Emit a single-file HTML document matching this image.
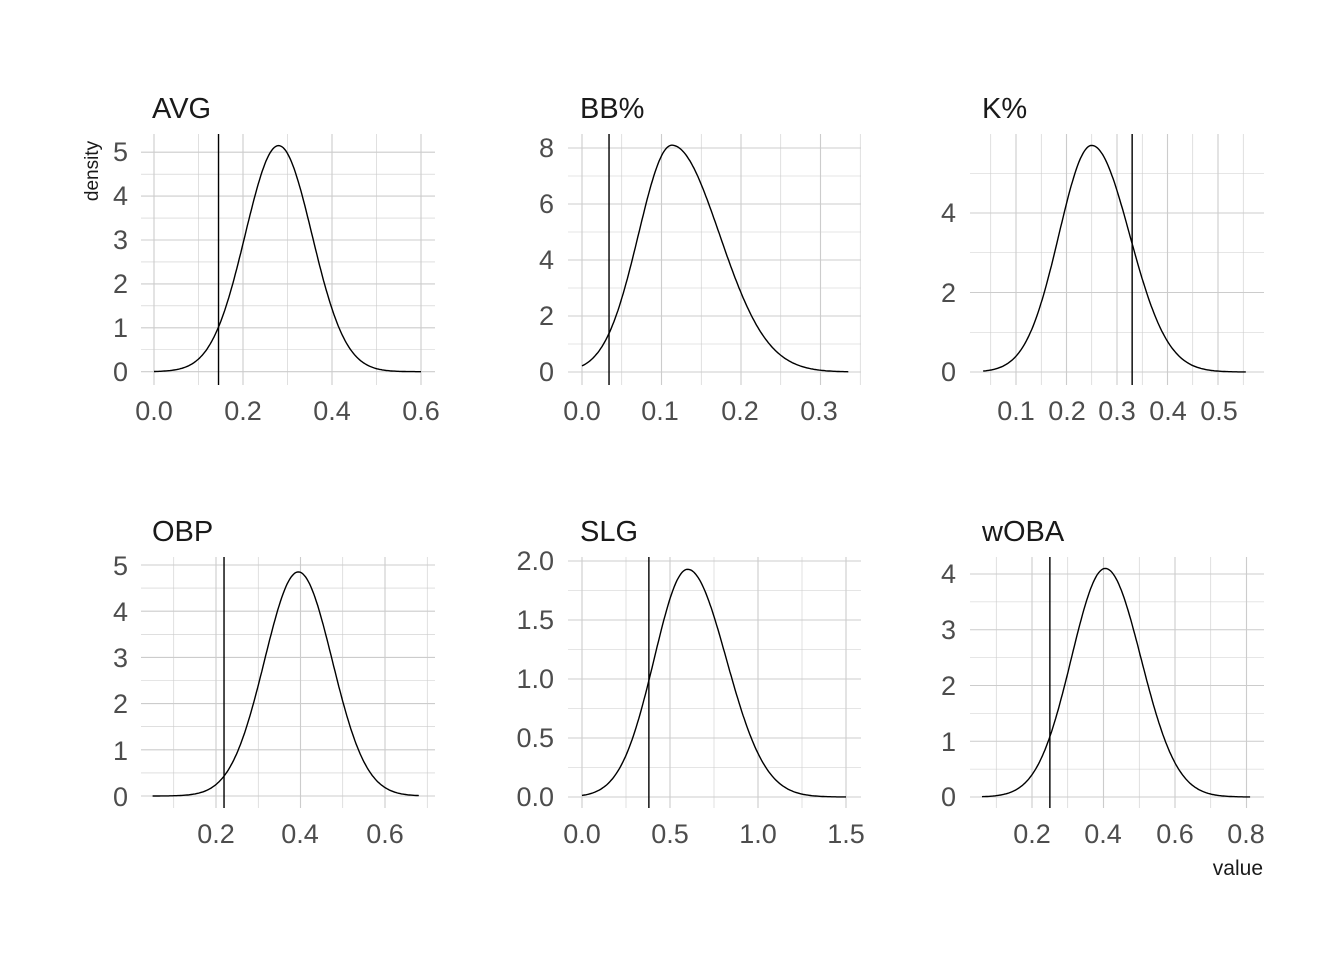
<!DOCTYPE html>
<html><head><meta charset="utf-8"><style>
body{margin:0;background:#fff}
text{font-family:"Liberation Sans",Arial,sans-serif}
.t{font-size:27px;fill:#4d4d4d}
.h{font-size:29px;fill:#1a1a1a}
</style></head><body>
<svg id="s" width="1344" height="960" xmlns="http://www.w3.org/2000/svg">
<rect width="1344" height="960" fill="#fff"/>
<g id="grid"></g>
<g id="curves" fill="none" stroke="#000" stroke-width="1.4"></g>
<text class="h" x="152" y="118">AVG</text>
<text class="h" x="580" y="118">BB%</text>
<text class="h" x="982" y="118">K%</text>
<text class="h" x="152" y="541">OBP</text>
<text class="h" x="580" y="541">SLG</text>
<text class="h" x="982" y="541">wOBA</text>
<text x="98" y="171" font-size="19" fill="#1a1a1a" transform="rotate(-90 98 171)" text-anchor="middle">density</text>
<text x="1263" y="875" font-size="21" fill="#1a1a1a" text-anchor="end">value</text>
<g class="t" text-anchor="end">
<text x="128" y="381">0</text><text x="128" y="337">1</text><text x="128" y="293">2</text><text x="128" y="249">3</text><text x="128" y="205">4</text><text x="128" y="161">5</text>
<text x="554" y="381">0</text><text x="554" y="325">2</text><text x="554" y="269">4</text><text x="554" y="213">6</text><text x="554" y="157">8</text>
<text x="956" y="381">0</text><text x="956" y="302">2</text><text x="956" y="222">4</text>
<text x="128" y="806">0</text><text x="128" y="760">1</text><text x="128" y="713">2</text><text x="128" y="667">3</text><text x="128" y="621">4</text><text x="128" y="575">5</text>
<text x="554" y="806">0.0</text><text x="554" y="747">0.5</text><text x="554" y="688">1.0</text><text x="554" y="629">1.5</text><text x="554" y="570">2.0</text>
<text x="956" y="806">0</text><text x="956" y="751">1</text><text x="956" y="695">2</text><text x="956" y="639">3</text><text x="956" y="583">4</text>
</g>
<g class="t" text-anchor="middle">
<text x="154" y="420">0.0</text><text x="243" y="420">0.2</text><text x="332" y="420">0.4</text><text x="421" y="420">0.6</text>
<text x="582" y="420">0.0</text><text x="660" y="420">0.1</text><text x="740" y="420">0.2</text><text x="819" y="420">0.3</text>
<text x="1016" y="420">0.1</text><text x="1067" y="420">0.2</text><text x="1117" y="420">0.3</text><text x="1168" y="420">0.4</text><text x="1219" y="420">0.5</text>
<text x="216" y="843">0.2</text><text x="300" y="843">0.4</text><text x="385" y="843">0.6</text>
<text x="582" y="843">0.0</text><text x="670" y="843">0.5</text><text x="758" y="843">1.0</text><text x="846" y="843">1.5</text>
<text x="1032" y="843">0.2</text><text x="1103" y="843">0.4</text><text x="1175" y="843">0.6</text><text x="1246" y="843">0.8</text>
</g>
</svg>
<script>
var P=[
{L:141,R:435,T:134,B:385,x0:154,sx:445,y0:371.7,sy:43.9,xs:0.1,ys:0.5,xmin:0,xmax:0.6,m:0.28,pk:5.15,v:0.145,sl:0.075,sr:0.075},
{L:568,R:861,T:134,B:385,x0:582,sx:795,y0:372,sy:28,xs:0.05,ys:1,xmin:0,xmax:0.335,m:0.113,pk:8.1,v:0.034,sl:0.042,sr:0.06},
{L:970,R:1264,T:134,B:385,x0:965.5,sx:505,y0:372,sy:39.75,xs:0.05,ys:1,xmin:0.035,xmax:0.555,m:0.25,pk:5.7,v:0.33,sl:0.065,sr:0.075},
{L:141,R:435,T:557,B:808,x0:131.5,sx:422.5,y0:796,sy:46.2,xs:0.1,ys:0.5,xmin:0.05,xmax:0.68,m:0.395,pk:4.85,v:0.219,sl:0.08,sr:0.08},
{L:568,R:861,T:557,B:808,x0:582,sx:176,y0:797,sy:118,xs:0.25,ys:0.25,xmin:0,xmax:1.5,m:0.6,pk:1.93,v:0.38,sl:0.19,sr:0.22},
{L:970,R:1264,T:557,B:808,x0:960.5,sx:357.5,y0:797,sy:55.75,xs:0.1,ys:0.5,xmin:0.06,xmax:0.81,m:0.405,pk:4.1,v:0.25,sl:0.095,sr:0.1}];
var g='',c='';
P.forEach(function(p){
 var k,x,y;
 for(k=-20;k<60;k++){x=p.x0+k*p.xs*p.sx;if(x>=p.L&&x<=p.R)g+='<line x1="'+x+'" x2="'+x+'" y1="'+p.T+'" y2="'+p.B+'" stroke="#cccccc" stroke-width="'+(k%2?0.6:1.1)+'"/>';}
 for(k=0;k<60;k++){y=p.y0-k*p.ys*p.sy;if(y>=p.T&&y<=p.B)g+='<line y1="'+y+'" y2="'+y+'" x1="'+p.L+'" x2="'+p.R+'" stroke="#cccccc" stroke-width="'+(k%2?0.6:1.1)+'"/>';}
 var d='';
 for(var i=0;i<=200;i++){x=p.xmin+(p.xmax-p.xmin)*i/200;var s=x<p.m?p.sl:p.sr;
  var yy=p.pk*Math.exp(-Math.pow(x-p.m,2)/(2*s*s));
  d+=(i?'L':'M')+(p.x0+x*p.sx).toFixed(1)+','+(p.y0-yy*p.sy).toFixed(1);}
 c+='<path d="'+d+'"/>';
 var vx=p.x0+p.v*p.sx;c+='<line x1="'+vx+'" x2="'+vx+'" y1="'+p.T+'" y2="'+p.B+'"/>';
});
document.getElementById('grid').innerHTML=g;
document.getElementById('curves').innerHTML=c;
</script>
</body></html>
